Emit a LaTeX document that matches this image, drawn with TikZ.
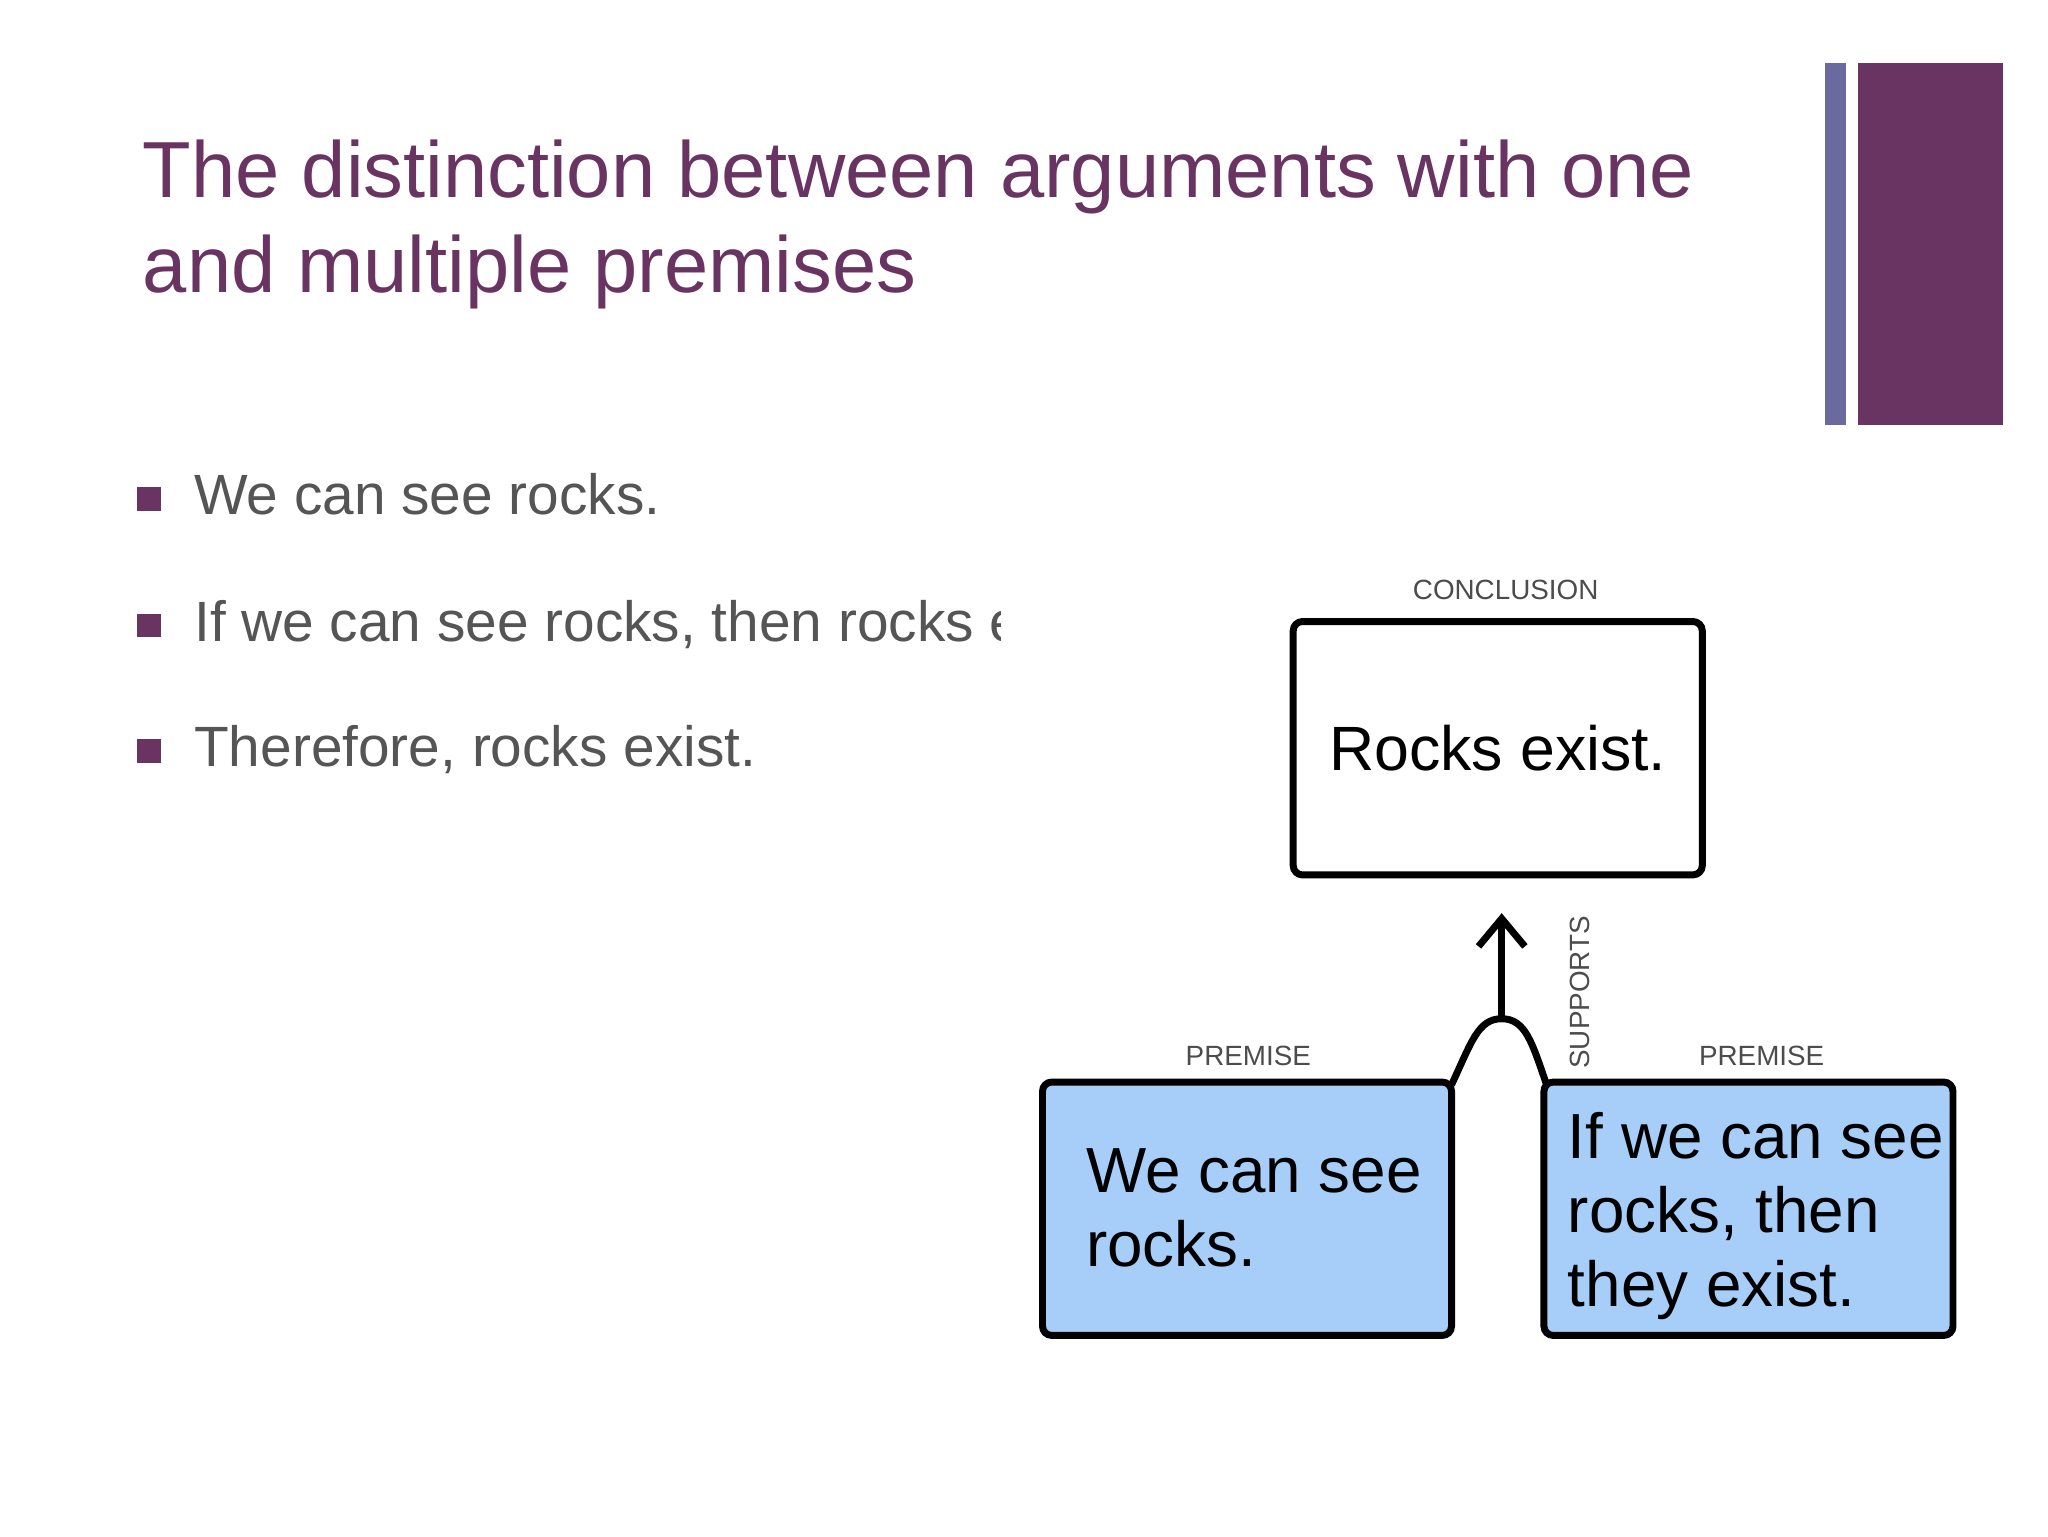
\documentclass[tikz,border=0pt]{standalone}
\usepackage{fontspec}
\setmainfont{Liberation Sans}
\usetikzlibrary{arrows.meta}
\definecolor{ttl}{HTML}{693362}
\definecolor{bar}{HTML}{6A6A9E}
\definecolor{txt}{HTML}{555555}
\definecolor{prem}{HTML}{A6CEF8}
\begin{document}
\begin{tikzpicture}[x=0.02cm,y=-0.02cm,
  lbl/.style={text=black!70,font=\fontsize{12}{14}\selectfont},
  bul/.style={anchor=base west,text=txt,font=\fontsize{24.5}{30}\selectfont},
  btx/.style={anchor=base west,font=\fontsize{27.5}{34}\selectfont},
  sq/.style={fill=ttl,minimum size=0.36cm,inner sep=0pt}]
\useasboundingbox (0,0) rectangle (1552,1164);
\fill[white] (0,0) rectangle (1552,1164);
% bars
\fill[bar] (1383,48) rectangle (1399,322);
\fill[ttl] (1408,48) rectangle (1518,322);
% title
\node[anchor=base west,text=ttl,font=\fontsize{34.3}{36}\selectfont] (title) at (102,150) {The distinction between arguments with one};
\node[anchor=base west,text=ttl,font=\fontsize{34.3}{36}\selectfont] (title2) at (102,222) {and multiple premises};
% bullets
\node[sq] (s1) at (113,378) {};
\node[sq] (s2) at (113,474) {};
\node[sq] (s3) at (113,569) {};
\node[bul] (b1) at (141,390) {We can see rocks.};
\begin{scope}
\clip (130,420) rectangle (758,520);
\node[bul] (b2) at (141,486) {If we can see rocks, then rocks exist.};
\end{scope}
\node[bul] (b3) at (141,581) {Therefore, rocks exist.};
% diagram
\draw[line width=3pt,rounded corners=4pt] (980,471) rectangle (1290,663);
\node (c) at (1135,567) {\fontsize{27}{34}\selectfont Rocks exist.};
\node[lbl] (cl) at (1141,447) {CONCLUSION};
\draw[line width=3pt,rounded corners=4pt,fill=prem] (790,820) rectangle (1100,1012);
\draw[line width=3pt,rounded corners=4pt,fill=prem] (1170,820) rectangle (1480,1012);
\node[btx] (p1a) at (817,904) {We can see};
\node[btx] (p1b) at (817,960) {rocks.};
\node[btx] (p2a) at (1182,878) {If we can see};
\node[btx] (p2b) at (1182,934) {rocks, then};
\node[btx] (p2c) at (1182,990) {they exist.};
\node[lbl] (l1) at (946,800) {PREMISE};
\node[lbl] (l2) at (1335,800) {PREMISE};
\coordinate (j) at (1138,772);
\coordinate (ah) at (1138,692);
\draw[line width=3pt] (1100,822) .. controls (1115,790) and (1120,772) .. (j) .. controls (1156,772) and (1161,790) .. (1172,822);
\draw[line width=3pt,-{Straight Barb[length=12pt,width=20pt,line width=3pt]}] (j) -- (ah);
\node[lbl,rotate=90] (sup) at (1197,752) {SUPPORTS};
\end{tikzpicture}
\end{document}
